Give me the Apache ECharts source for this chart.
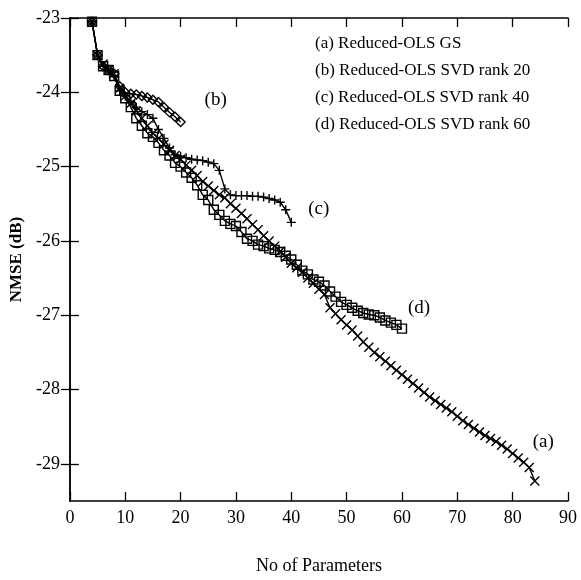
<!DOCTYPE html>
<html><head><meta charset="utf-8">
<script src="https://cdn.jsdelivr.net/npm/echarts@6/dist/echarts.min.js"></script>
<style>html,body{margin:0;padding:0;background:#fff}#c{width:581px;height:580px}</style>
</head><body><div id="c"></div>
<script>
const xA = [4,5,6,7,8,9,10,11,12,13,14,15,16,17,18,19,20,21,22,23,24,25,26,27,28,29,30,31,32,33,34,35,36,37,38,39,40,41,42,43,44,45,46,47,48,49,50,51,52,53,54,55,56,57,58,59,60,61,62,63,64,65,66,67,68,69,70,71,72,73,74,75,76,77,78,79,80,81,82,83,84];
const yA = [-23.05,-23.5,-23.62,-23.7,-23.75,-23.95,-24.05,-24.15,-24.25,-24.35,-24.45,-24.55,-24.62,-24.7,-24.78,-24.85,-24.9,-24.98,-25.05,-25.12,-25.2,-25.26,-25.32,-25.38,-25.42,-25.5,-25.56,-25.63,-25.7,-25.78,-25.85,-25.93,-26.0,-26.07,-26.14,-26.22,-26.3,-26.36,-26.42,-26.5,-26.57,-26.65,-26.72,-26.9,-26.98,-27.06,-27.13,-27.2,-27.28,-27.36,-27.43,-27.5,-27.56,-27.62,-27.68,-27.74,-27.8,-27.86,-27.92,-27.98,-28.04,-28.1,-28.15,-28.2,-28.25,-28.3,-28.36,-28.42,-28.47,-28.52,-28.57,-28.62,-28.66,-28.7,-28.75,-28.8,-28.86,-28.92,-28.98,-29.05,-29.23];
const xB = [4,5,6,7,8,9,10,11,12,13,14,15,16,17,18,19,20];
const yB = [-23.05,-23.5,-23.65,-23.7,-23.75,-23.92,-24.0,-24.02,-24.03,-24.05,-24.07,-24.1,-24.13,-24.2,-24.27,-24.33,-24.4];
const xC = [4,5,6,7,8,9,10,11,12,13,14,15,16,17,18,19,20,21,22,23,24,25,26,27,28,29,30,31,32,33,34,35,36,37,38,39,40];
const yC = [-23.05,-23.5,-23.65,-23.7,-23.78,-23.98,-24.05,-24.12,-24.2,-24.26,-24.3,-24.35,-24.5,-24.62,-24.75,-24.84,-24.86,-24.88,-24.9,-24.91,-24.92,-24.94,-24.96,-25.05,-25.3,-25.38,-25.39,-25.39,-25.39,-25.4,-25.4,-25.41,-25.43,-25.45,-25.48,-25.58,-25.75];
const xD = [4,5,6,7,8,9,10,11,12,13,14,15,16,17,18,19,20,21,22,23,24,25,26,27,28,29,30,31,32,33,34,35,36,37,38,39,40,41,42,43,44,45,46,47,48,49,50,51,52,53,54,55,56,57,58,59,60];
const yD = [-23.05,-23.5,-23.65,-23.7,-23.78,-23.98,-24.08,-24.2,-24.35,-24.45,-24.55,-24.6,-24.68,-24.78,-24.85,-24.95,-25.0,-25.08,-25.15,-25.25,-25.38,-25.45,-25.58,-25.65,-25.73,-25.77,-25.8,-25.88,-25.97,-26.0,-26.05,-26.07,-26.1,-26.12,-26.15,-26.2,-26.25,-26.32,-26.4,-26.45,-26.52,-26.55,-26.6,-26.68,-26.75,-26.82,-26.86,-26.9,-26.94,-26.97,-26.99,-27.0,-27.03,-27.07,-27.1,-27.13,-27.18];
const yTicks = [-29,-28,-27,-26,-25,-24,-23];
const legendLines = ['(a) Reduced-OLS GS','(b) Reduced-OLS SVD rank 20','(c) Reduced-OLS SVD rank 40','(d) Reduced-OLS SVD rank 60'];
const endTags = ['(a)','(b)','(c)','(d)'];

const FONT = '"Liberation Serif", "DejaVu Serif", serif';
const zip = (xs, ys) => xs.map((x, i) => [x, ys[i]]);
const axisBase = {
  axisLine: {show: true, lineStyle: {color: '#000', width: 1.5}},
  splitLine: {show: false},
  axisTick: {show: true, inside: true, length: 9, lineStyle: {color: '#000', width: 1.3}}
};
function mk(name, data, symbol, size, tag, offset) {
  return {
    type: 'line', name, data, symbol, symbolSize: size, showAllSymbol: true,
    lineStyle: {color: '#000', width: 1.4},
    itemStyle: {color: 'none', borderColor: '#000', borderWidth: 1.4},
    animation: false,
    endLabel: {show: true, formatter: tag, offset, distance: 0, fontFamily: FONT, fontSize: 19, color: '#000'}
  };
}
const chart = echarts.init(document.getElementById('c'));
chart.setOption({
  backgroundColor: '#fff',
  animation: false,
  grid: {left: 67, right: 13, top: 18, bottom: 77, containLabel: false},
  xAxis: [
    Object.assign({}, axisBase, {type: 'value', position: 'bottom', min: 0, max: 90, interval: 10,
      name: 'No of Parameters', nameLocation: 'middle', nameGap: 56,
      nameTextStyle: {fontFamily: FONT, fontSize: 18, color: '#000'},
      axisLabel: {fontFamily: FONT, fontSize: 18, color: '#000', margin: 8}}),
    Object.assign({}, axisBase, {type: 'value', position: 'top', min: 0, max: 90, interval: 10,
      axisLabel: {show: false}})
  ],
  yAxis: [
    Object.assign({}, axisBase, {type: 'value', position: 'left', min: -29.5, max: -23,
      axisTick: Object.assign({}, axisBase.axisTick, {customValues: yTicks}),
      name: 'NMSE (dB)', nameLocation: 'middle', nameGap: 43, nameRotate: 90,
      nameTextStyle: {fontFamily: FONT, fontSize: 17, fontWeight: 'bold', color: '#000'},
      axisLabel: {customValues: yTicks, fontFamily: FONT, fontSize: 18, color: '#000', margin: 10}}),
    Object.assign({}, axisBase, {type: 'value', position: 'right', min: -29.5, max: -23,
      axisTick: Object.assign({}, axisBase.axisTick, {customValues: yTicks}),
      axisLabel: {show: false}})
  ],
  graphic: legendLines.map((t, i) => ({
    type: 'text', left: 315, top: 35 + i * 27,
    style: {text: t, font: '17px ' + FONT, fill: '#000'}
  })),
  series: [
    mk('a', zip(xA, yA), 'path://M0,0L10,10M10,0L0,10', 9, endTags[0], [-2, -39]),
    mk('b', zip(xB, yB), 'diamond', 9, endTags[1], [24, -22]),
    mk('c', zip(xC, yC), 'path://M5,0L5,10M0,5L10,5', 9, endTags[2], [17, -13]),
    mk('d', zip(xD, yD), 'rect', 9, endTags[3], [6, -21])
  ]
});
</script></body></html>
